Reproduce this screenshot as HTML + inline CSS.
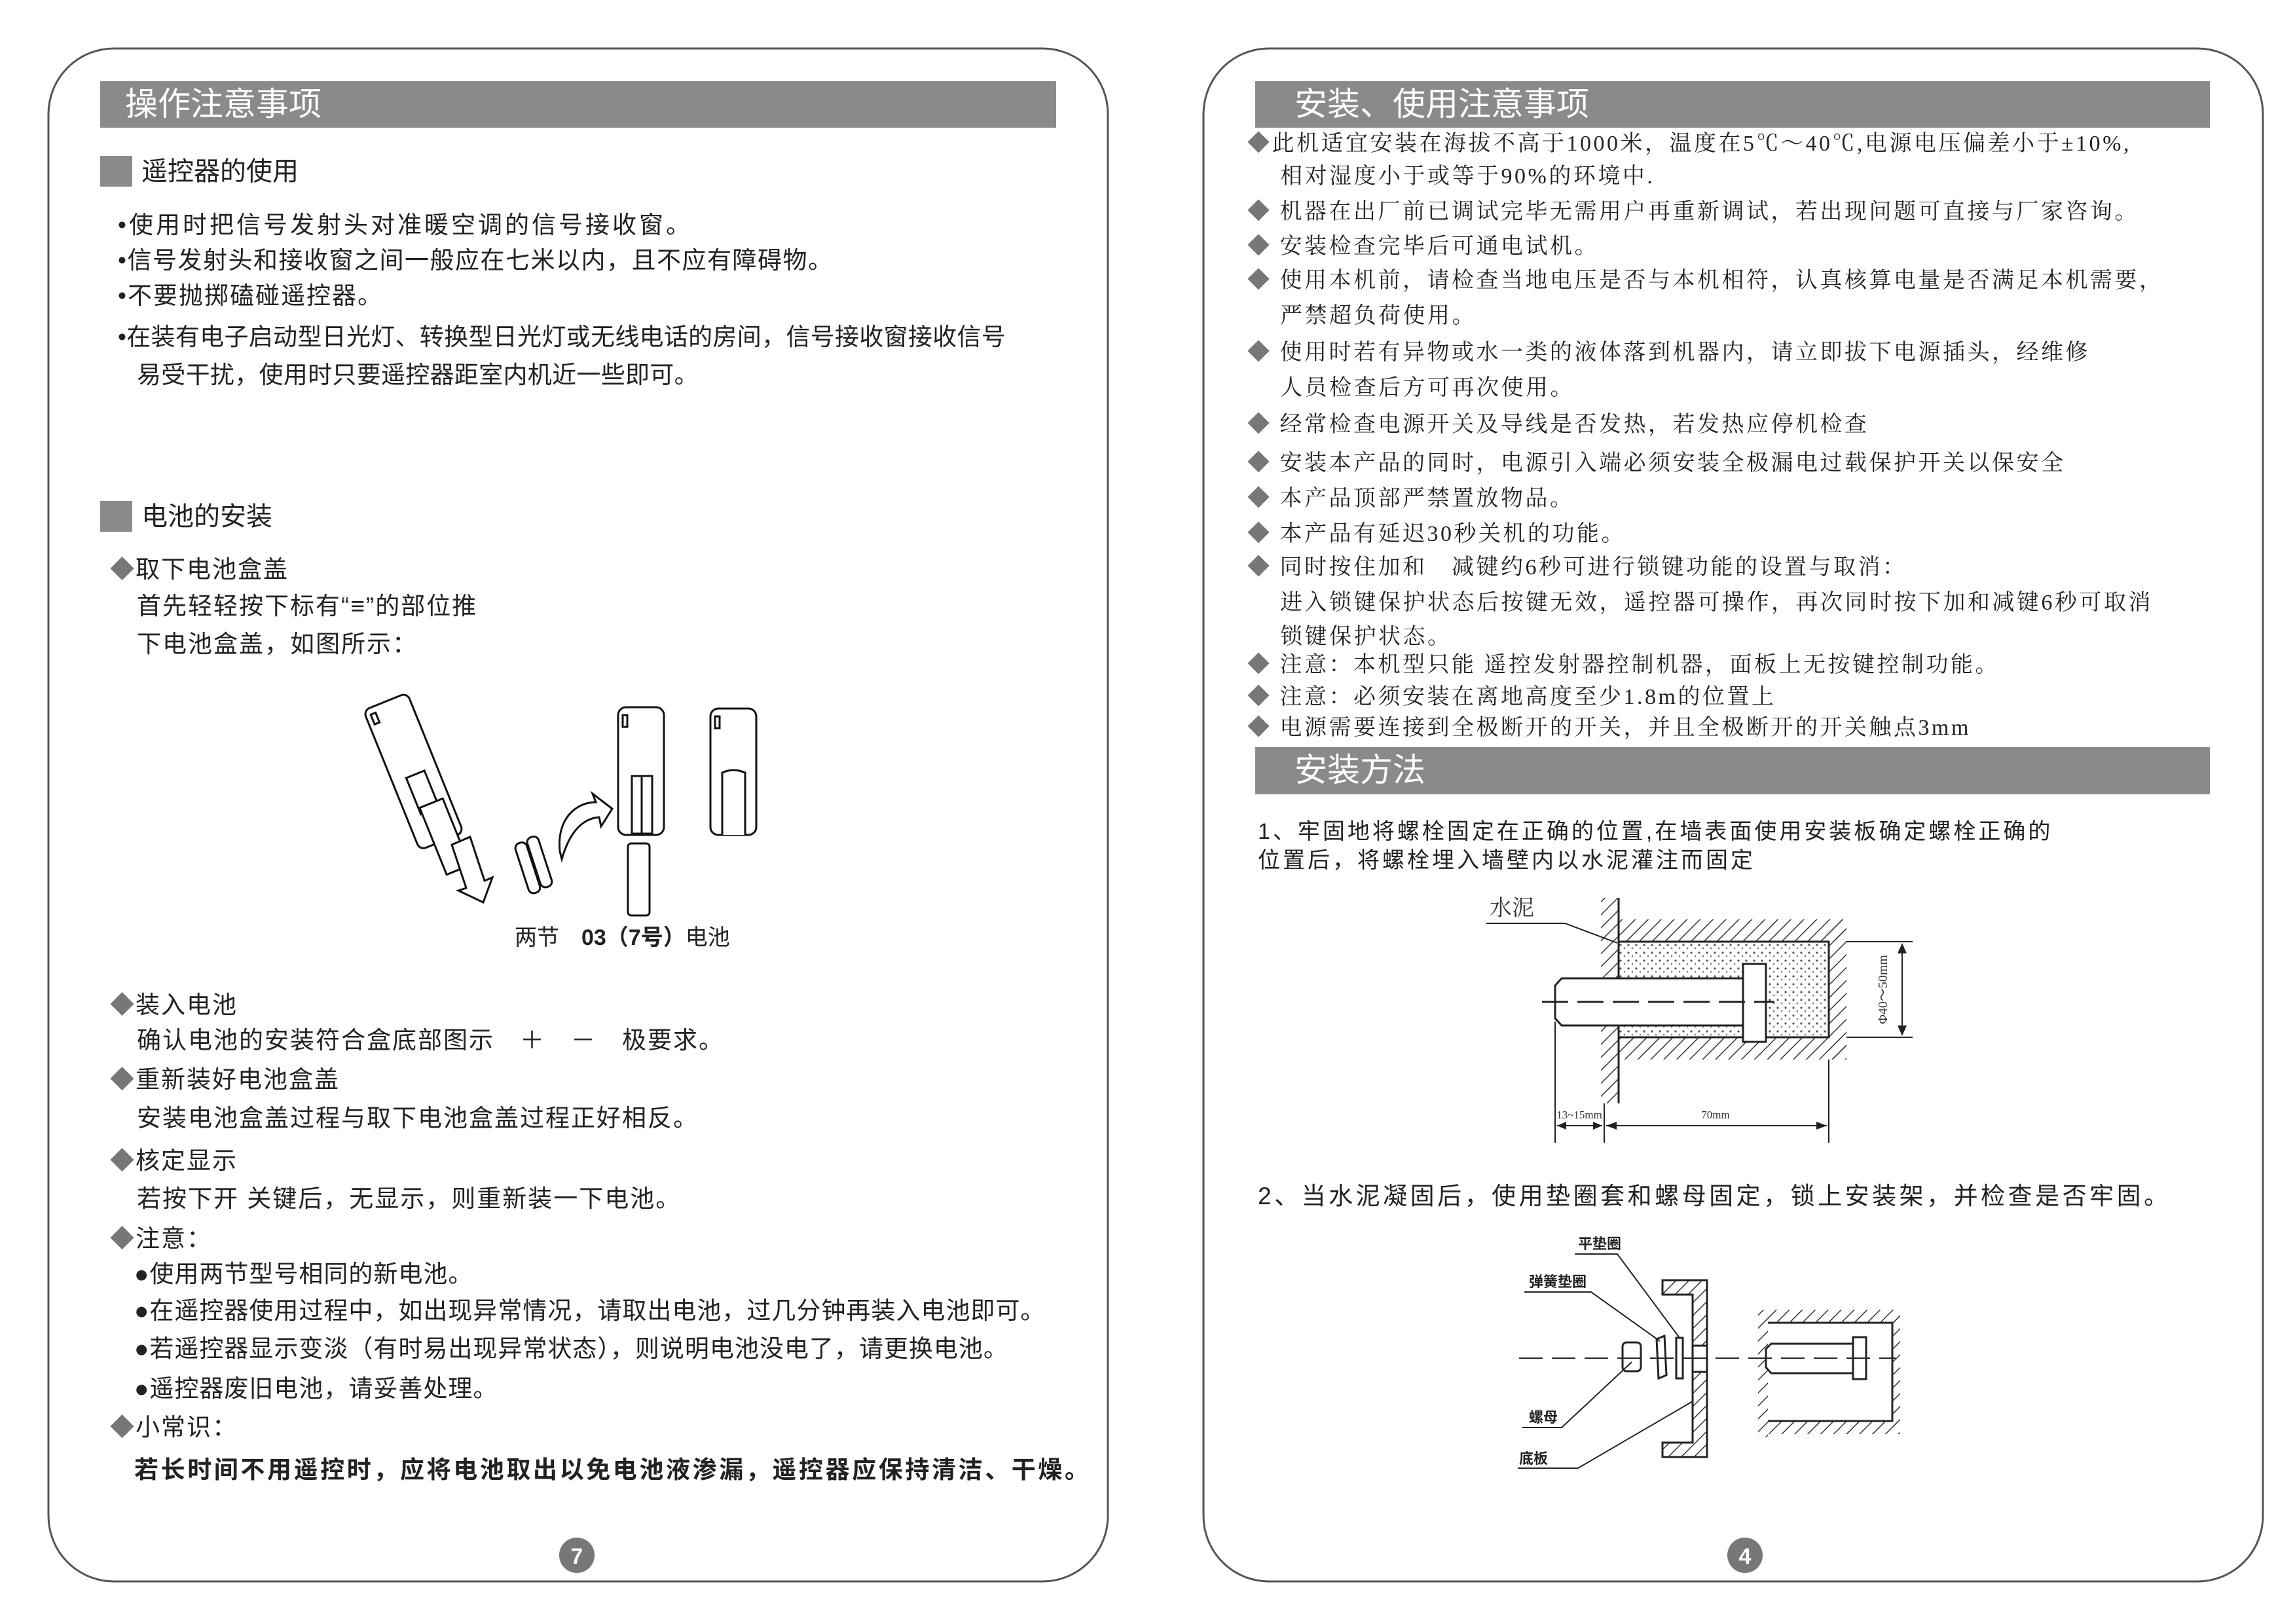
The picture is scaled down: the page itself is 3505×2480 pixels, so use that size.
<!DOCTYPE html>
<html><head><meta charset="utf-8">
<style>
html,body{margin:0;padding:0;background:#fff;}
body{width:3505px;height:2480px;position:relative;overflow:hidden;font-family:"Liberation Sans","Noto Sans CJK SC",sans-serif;color:#222;}
.t{position:absolute;white-space:nowrap;line-height:46px;}
.L{font-size:37px;letter-spacing:2px;}
.R{font-size:34px;letter-spacing:3.5px;font-family:"Liberation Serif","Noto Serif CJK SC",serif;}
.d{color:#777;}
.bar{position:absolute;background:#8a8a8a;color:#fff;font-size:50px;line-height:71px;}
</style></head><body>
<svg width="3505" height="2480" style="position:absolute;left:0;top:0" xmlns="http://www.w3.org/2000/svg">
<defs>
<pattern id="h" width="14" height="14" patternUnits="userSpaceOnUse" patternTransform="rotate(45)"><line x1="0" y1="0" x2="0" y2="14" stroke="#333" stroke-width="3"/></pattern>
<pattern id="dt" width="12" height="12" patternUnits="userSpaceOnUse"><circle cx="3" cy="3" r="1.6" fill="#555"/><circle cx="9" cy="8" r="1.3" fill="#777"/></pattern>
</defs>
<rect x="74" y="74" width="1618" height="2341" rx="100" fill="none" stroke="#555" stroke-width="3"/>
<rect x="1838" y="74" width="1618" height="2341" rx="100" fill="none" stroke="#555" stroke-width="3"/>
<rect x="153" y="238" width="49" height="47" fill="#8a8a8a"/>
<rect x="153" y="765" width="49" height="47" fill="#8a8a8a"/>
<!-- battery figure -->
<g fill="#fff" stroke="#111" stroke-width="3">
<g transform="translate(555,1085) rotate(-22)">
<rect x="0" y="0" width="72" height="230" rx="10"/>
<rect x="8" y="10" width="8" height="16"/>
<rect x="22" y="120" width="30" height="60"/>
<rect x="24" y="170" width="38" height="110"/>
</g>
<path d="M690 1290 L718 1278 L740 1345 L752 1340 L738 1378 L700 1360 L712 1356 Z"/>
<g transform="translate(785,1290) rotate(-18)"><rect x="0" y="0" width="18" height="80" rx="8"/><rect x="20" y="-3" width="18" height="80" rx="8"/></g>
<path d="M855 1300 C850 1250 880 1225 910 1225 L905 1212 L935 1235 L918 1262 L915 1248 C890 1250 870 1270 858 1312 Z"/>
<rect x="944" y="1080" width="70" height="195" rx="12"/>
<rect x="951" y="1092" width="7" height="18"/>
<rect x="965" y="1185" width="31" height="88"/>
<line x1="980" y1="1185" x2="980" y2="1273"/>
<rect x="1085" y="1082" width="70" height="193" rx="12"/>
<rect x="1092" y="1094" width="7" height="18"/>
<path d="M1103 1275 V1180 Q1120 1172 1138 1180 V1275"/>
<rect x="959" y="1288" width="33" height="110" rx="5"/>
</g>
<circle cx="881" cy="2375" r="27" fill="#777"/>
<text x="881" y="2388" font-size="34" font-weight="bold" fill="#fff" text-anchor="middle" font-family="Liberation Sans,sans-serif">7</text>
<circle cx="2665" cy="2375" r="27" fill="#777"/>
<text x="2665" y="2388" font-size="34" font-weight="bold" fill="#fff" text-anchor="middle" font-family="Liberation Sans,sans-serif">4</text>
<!-- figure 1 -->
<rect x="2472" y="1438" width="321" height="146" fill="url(#dt)"/>
<rect x="2445" y="1371" width="27" height="314" fill="url(#h)"/>
<rect x="2472" y="1404" width="348" height="34" fill="url(#h)"/>
<rect x="2793" y="1404" width="27" height="214" fill="url(#h)"/>
<rect x="2472" y="1584" width="348" height="34" fill="url(#h)"/>
<g stroke="#222" stroke-width="3" fill="none">
<line x1="2472" y1="1371" x2="2472" y2="1685"/>
<path d="M2472 1438 H2793 V1584 H2472"/>
<path d="M2385 1494 H2665 V1566 H2385 L2375 1555 V1505 Z" fill="#fff"/>
<rect x="2662" y="1472" width="35" height="119" fill="#fff"/>
<line x1="2355" y1="1530" x2="2710" y2="1530" stroke-dasharray="40 14"/>
<path d="M2270 1410 H2390 L2470 1440" stroke-width="2"/>
<line x1="2820" y1="1438" x2="2921" y2="1438" stroke-width="2"/>
<line x1="2820" y1="1584" x2="2921" y2="1584" stroke-width="2"/>
<line x1="2905" y1="1442" x2="2905" y2="1580" stroke-width="2"/>
<line x1="2375" y1="1560" x2="2375" y2="1745" stroke-width="2"/>
<line x1="2450" y1="1685" x2="2450" y2="1745" stroke-width="2"/>
<line x1="2793" y1="1618" x2="2793" y2="1745" stroke-width="2"/>
<line x1="2378" y1="1719" x2="2447" y2="1719" stroke-width="2"/>
<line x1="2453" y1="1719" x2="2790" y2="1719" stroke-width="2"/>
</g>
<g fill="#222"><path d="M2905 1440 l-7 16 h14z M2905 1582 l-7 -16 h14z M2453 1719 l16 -6 v12z M2790 1719 l-16 -6 v12z M2378 1719 l14 -6 v12z M2447 1719 l-14 -6 v12z"/></g>
<text x="2275" y="1398" font-size="34" fill="#333" font-family="Noto Serif CJK SC,serif">水泥</text>
<text x="2882" y="1511" font-size="20" fill="#333" font-family="Liberation Serif,serif" transform="rotate(-90 2882 1511)" text-anchor="middle">Φ40～50mm</text>
<text x="2412" y="1708" font-size="17" fill="#333" text-anchor="middle" font-family="Liberation Serif,serif">13~15mm</text>
<text x="2620" y="1708" font-size="17" fill="#333" text-anchor="middle" font-family="Liberation Serif,serif">70mm</text>
<!-- figure 2 -->
<rect x="2700" y="2020" width="190" height="150" fill="url(#dt)"/>
<rect x="2685" y="2000" width="15" height="195" fill="url(#h)"/>
<rect x="2700" y="2000" width="200" height="20" fill="url(#h)"/>
<rect x="2700" y="2170" width="200" height="20" fill="url(#h)"/>
<rect x="2890" y="2000" width="12" height="190" fill="url(#h)"/>
<path d="M2539 1955 H2607 V2225 H2539 V2203 H2585 V1977 H2539 Z" fill="url(#h)" stroke="#222" stroke-width="3"/>
<g stroke="#222" stroke-width="3" fill="#fff">
<rect x="2585" y="2055" width="22" height="40"/>
<path d="M2700 2020 H2890 V2170 H2700"/>
<path d="M2705 2052 H2835 V2097 H2705 L2697 2088 V2060 Z"/>
<rect x="2830" y="2042" width="20" height="64"/>
<rect x="2560" y="2043" width="10" height="62"/>
<path d="M2530 2045 L2542 2040 L2545 2100 L2533 2105 Z"/>
<rect x="2478" y="2050" width="28" height="44" rx="6"/>
<g fill="none" stroke-width="2">
<line x1="2320" y1="2074" x2="2895" y2="2074" stroke-dasharray="36 14"/>
<path d="M2405 1915 H2470 L2565 2043"/>
<path d="M2328 1973 H2430 L2535 2048"/>
<path d="M2325 2180 H2385 L2492 2080"/>
<path d="M2318 2242 H2410 L2585 2140"/>
</g></g>
<g font-size="22" font-weight="bold" fill="#222" font-family="Noto Sans CJK SC,sans-serif">
<text x="2410" y="1907">平垫圈</text><text x="2335" y="1965">弹簧垫圈</text><text x="2335" y="2172">螺母</text><text x="2320" y="2235">底板</text></g>
</svg>

<div class="bar" style="left:153px;top:124px;width:1460px;"><span style="margin-left:38px">操作注意事项</span></div>
<div class="bar" style="left:1917px;top:124px;width:1458px;"><span style="margin-left:60px">安装、使用注意事项</span></div>
<div class="bar" style="left:1917px;top:1141px;width:1458px;height:72px;"><span style="margin-left:60px">安装方法</span></div>

<div class="t" style="left:216px;top:238px;font-size:40px;line-height:48px;">遥控器的使用</div>
<div class="t L" style="left:180px;top:321px;letter-spacing:4px;">•使用时把信号发射头对准暖空调的信号接收窗。</div>
<div class="t L" style="left:180px;top:375px;letter-spacing:1.5px;">•信号发射头和接收窗之间一般应在七米以内，且不应有障碍物。</div>
<div class="t L" style="left:180px;top:429px;">•不要抛掷磕碰遥控器。</div>
<div class="t L" style="left:180px;top:492px;letter-spacing:0.3px;">•在装有电子启动型日光灯、转换型日光灯或无线电话的房间，信号接收窗接收信号</div>
<div class="t L" style="left:209px;top:550px;letter-spacing:0.3px;">易受干扰，使用时只要遥控器距室内机近一些即可。</div>

<div class="t" style="left:216px;top:765px;font-size:40px;line-height:48px;">电池的安装</div>
<div class="t L" style="left:168px;top:847px;"><span class="d">◆</span>取下电池盒盖</div>
<div class="t L" style="left:209px;top:903px;">首先轻轻按下标有“≡”的部位推</div>
<div class="t L" style="left:209px;top:961px;">下电池盒盖，如图所示：</div>
<div class="t" style="left:786px;top:1409px;font-size:34px;">两节　<b>03（7号）</b>电池</div>

<div class="t L" style="left:168px;top:1512px;"><span class="d">◆</span>装入电池</div>
<div class="t L" style="left:209px;top:1566px;">确认电池的安装符合盒底部图示　＋　－　极要求。</div>
<div class="t L" style="left:168px;top:1626px;"><span class="d">◆</span>重新装好电池盒盖</div>
<div class="t L" style="left:209px;top:1685px;">安装电池盒盖过程与取下电池盒盖过程正好相反。</div>
<div class="t L" style="left:168px;top:1750px;"><span class="d">◆</span>核定显示</div>
<div class="t L" style="left:209px;top:1808px;">若按下开 关键后，无显示，则重新装一下电池。</div>
<div class="t L" style="left:168px;top:1869px;"><span class="d">◆</span>注意：</div>
<div class="t L" style="left:205px;top:1923px;letter-spacing:1px;">●使用两节型号相同的新电池。</div>
<div class="t L" style="left:205px;top:1979px;letter-spacing:1px;">●在遥控器使用过程中，如出现异常情况，请取出电池，过几分钟再装入电池即可。</div>
<div class="t L" style="left:205px;top:2037px;letter-spacing:1px;">●若遥控器显示变淡（有时易出现异常状态），则说明电池没电了，请更换电池。</div>
<div class="t L" style="left:205px;top:2098px;letter-spacing:1px;">●遥控器废旧电池，请妥善处理。</div>
<div class="t L" style="left:168px;top:2157px;"><span class="d">◆</span>小常识：</div>
<div class="t L" style="left:205px;top:2222px;font-weight:bold;letter-spacing:3.6px;">若长时间不用遥控时，应将电池取出以免电池液渗漏，遥控器应保持清洁、干燥。</div>

<div class="t R" style="left:1905px;top:197px;"><span class="d">◆</span>此机适宜安装在海拔不高于1000米，温度在5℃～40℃,电源电压偏差小于±10%,</div>
<div class="t R" style="left:1955px;top:247px;">相对湿度小于或等于90%的环境中.</div>
<div class="t R" style="left:1905px;top:301px;"><span class="d">◆</span> 机器在出厂前已调试完毕无需用户再重新调试，若出现问题可直接与厂家咨询。</div>
<div class="t R" style="left:1905px;top:354px;"><span class="d">◆</span> 安装检查完毕后可通电试机。</div>
<div class="t R" style="left:1905px;top:406px;"><span class="d">◆</span> 使用本机前，请检查当地电压是否与本机相符，认真核算电量是否满足本机需要，</div>
<div class="t R" style="left:1955px;top:460px;">严禁超负荷使用。</div>
<div class="t R" style="left:1905px;top:516px;"><span class="d">◆</span> 使用时若有异物或水一类的液体落到机器内，请立即拔下电源插头，经维修</div>
<div class="t R" style="left:1955px;top:570px;">人员检查后方可再次使用。</div>
<div class="t R" style="left:1905px;top:626px;"><span class="d">◆</span> 经常检查电源开关及导线是否发热，若发热应停机检查</div>
<div class="t R" style="left:1905px;top:685px;"><span class="d">◆</span> 安装本产品的同时，电源引入端必须安装全极漏电过载保护开关以保安全</div>
<div class="t R" style="left:1905px;top:739px;"><span class="d">◆</span> 本产品顶部严禁置放物品。</div>
<div class="t R" style="left:1905px;top:793px;"><span class="d">◆</span> 本产品有延迟30秒关机的功能。</div>
<div class="t R" style="left:1905px;top:844px;"><span class="d">◆</span> 同时按住加和　减键约6秒可进行锁键功能的设置与取消：</div>
<div class="t R" style="left:1955px;top:898px;">进入锁键保护状态后按键无效，遥控器可操作，再次同时按下加和减键6秒可取消</div>
<div class="t R" style="left:1955px;top:950px;">锁键保护状态。</div>
<div class="t R" style="left:1905px;top:993px;"><span class="d">◆</span> 注意：本机型只能 遥控发射器控制机器，面板上无按键控制功能。</div>
<div class="t R" style="left:1905px;top:1042px;"><span class="d">◆</span> 注意：必须安装在离地高度至少1.8m的位置上</div>
<div class="t R" style="left:1905px;top:1089px;"><span class="d">◆</span> 电源需要连接到全极断开的开关，并且全极断开的开关触点3mm</div>

<div class="t R" style="left:1921px;top:1247px;letter-spacing:4px;font-family:'Liberation Sans','Noto Sans CJK SC',sans-serif;">1、牢固地将螺栓固定在正确的位置,在墙表面使用安装板确定螺栓正确的</div>
<div class="t R" style="left:1921px;top:1291px;letter-spacing:4px;font-family:'Liberation Sans','Noto Sans CJK SC',sans-serif;">位置后，将螺栓埋入墙壁内以水泥灌注而固定</div>
<div class="t" style="left:1921px;top:1804px;font-size:37px;letter-spacing:4.5px;">2、当水泥凝固后，使用垫圈套和螺母固定，锁上安装架，并检查是否牢固。</div>
</body></html>
